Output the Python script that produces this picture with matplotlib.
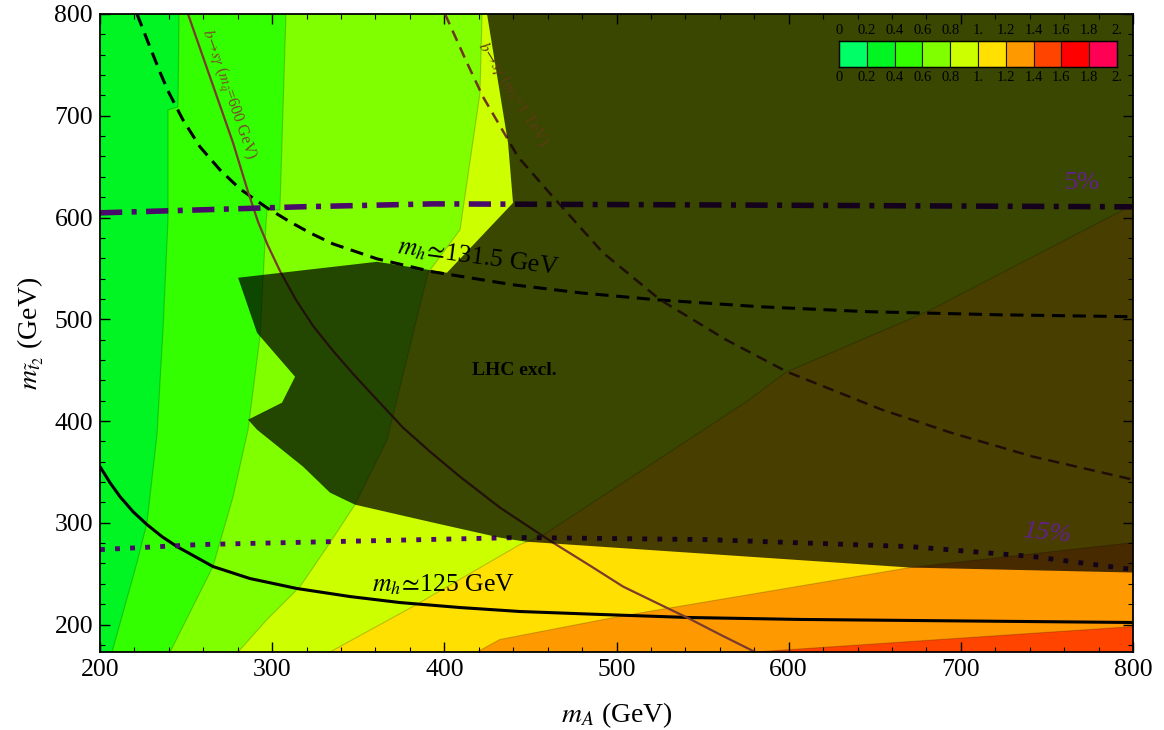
import numpy as np
import matplotlib.pyplot as plt
from matplotlib.ticker import MultipleLocator

plt.rcParams['font.family'] = ['Liberation Serif', 'DejaVu Serif']
plt.rcParams['mathtext.fontset'] = 'stix'

# colour scale of the ratio (legend box)
levels = [0.0, 0.2, 0.4, 0.6, 0.8, 1.0, 1.2, 1.4, 1.6, 1.8, 2.0]
level_labels = ['0', '0.2', '0.4', '0.6', '0.8', '1.', '1.2', '1.4', '1.6', '1.8', '2.']
band_colors = ['#00ff66', '#00f522', '#33ff00', '#80ff00', '#ccff00',
               '#ffe000', '#ff9900', '#ff4400', '#ff0000', '#ff0055']

# contour boundaries (mA, mt2 in GeV)
c04_mA = [207.0, 221.5, 227.3, 233.1, 236.6, 239.5, 239.5, 245.3, 245.9]
c04_mt = [173, 260.9, 300.2, 386.6, 489.7, 597.7, 705.7, 708.7, 800]
c06_mA = [240.7, 265.6, 277.3, 286.0, 292.9, 296.4, 297.0, 304.5, 308.0]
c06_mt = [173, 257.0, 325.7, 391.5, 482.8, 592.8, 607.5, 607.5, 800]
c08_mA = [280.2, 297.0, 316.2, 333.6, 348.1, 366.7, 390.5, 409.1, 420.7, 421.9]
c08_mt = [173, 204.9, 237.3, 280.5, 317.8, 381.7, 545.7, 587.9, 722.4, 800]
c10_mA = [333.6, 381.8, 443.9, 456.1, 574.6, 599.0, 680.3, 800]
c10_mt = [173, 217.7, 278.6, 286.4, 418.0, 448.4, 507.4, 612.4]
c12_mA = [419.0, 432.3, 501.5, 670.5, 800]
c12_mt = [173, 185.3, 207.9, 256.0, 280.5]
c14_mA = [579.9, 800]
c14_mt = [173, 198.0]

# LHC excluded region
lhc_mA = [424.8, 437.0, 439.9, 401.5, 360.9, 280.2, 291.2, 313.3, 305.7, 286.0,
          291.2, 317.9, 333.6, 348.1, 393.4, 432.3, 446.9, 670.5, 800, 800]
lhc_mt = [800, 673.3, 614.4, 545.7, 556.5, 540.8, 486.7, 443.5, 418.0, 401.3,
          391.5, 355.2, 329.6, 317.8, 300.2, 285.4, 281.5, 256.0, 251.1, 800]

# higgs mass contours
mh131_mA = [221.5, 229.0, 234.8, 239.5, 248.2, 258.1, 269.7, 281.3, 297.0, 310.4, 322.0,
            335.3, 360.9, 393.4, 439.9, 478.8, 522.9, 583.3, 646.7, 722.7, 800]
mh131_mt = [800, 767.6, 743.0, 724.4, 695.9, 669.4, 646.8, 628.1, 609.5, 595.7, 584.9,
            574.1, 559.4, 546.6, 533.9, 526.0, 519.2, 512.3, 507.4, 504.4, 502.5]
mh125_mA = [200, 205.8, 211.6, 219.2, 227.3, 236.0, 244.7, 255.2, 265.6, 287.1, 314.4,
            345.2, 374.2, 409.1, 443.9, 490.4, 542.1, 606.6, 670.5, 800]
mh125_mt = [355.2, 339.4, 325.7, 310.9, 298.2, 286.4, 276.6, 266.8, 257.0, 245.2, 235.4,
            227.5, 221.6, 216.7, 212.8, 209.9, 206.9, 205.0, 204.0, 202.0]

# b -> s gamma bounds
bsg600_mA = [251.1, 263.9, 277.3, 286.0, 291.8, 297.6, 304.5, 313.8, 323.7, 335.3, 346.9, 360.9,
             376.0, 391.7, 409.1, 432.3, 449.8, 463.1, 484.6, 503.8, 522.9, 542.1, 560.1, 579.9]
bsg600_mt = [800, 738.1, 673.3, 625.2, 595.7, 572.2, 547.6, 519.1, 493.6, 469.1, 446.5, 420.9,
             393.5, 369.9, 345.3, 314.9, 295.3, 280.5, 257.9, 237.3, 221.6, 205.9, 190.2, 173.5]
bsg1t_mA = [400.4, 413.2, 422.5, 434.7, 442.8, 463.1, 492.2, 525.3, 563.6, 599.0, 654.2, 694.3, 741.9, 800]
bsg1t_mt = [800, 751.9, 718.5, 683.1, 659.6, 620.3, 565.3, 519.2, 479.9, 448.4, 411.1, 388.5, 365.0, 342.4]

# fine-tuning contours
pct5_mA = [200, 258.1, 316.2, 393.4, 548.5, 800]
pct5_mt = [604.6, 607.5, 610.5, 613.4, 612.4, 610.5]
pct15_mA = [200, 258.1, 335.3, 443.9, 551.4, 670.5, 741.9, 800]
pct15_mt = [273.6, 278.6, 281.5, 285.5, 283.5, 276.6, 266.8, 254.0]

x0, x1, y0, y1 = 200, 800, 173, 800

fig = plt.figure(figsize=(11.64, 7.30), dpi=100)
ax = fig.add_axes([100/1164, 78/730, 1033/1164, 638/730])
ax.set_xlim(x0, x1)
ax.set_ylim(y0, y1)

# coloured bands, each one painted over the previous
ax.fill([x0, x1, x1, x0], [y0, y0, y1, y1], color=band_colors[1], lw=0, zorder=1)
for bx, by, col in [(c04_mA, c04_mt, band_colors[2]),
                    (c06_mA, c06_mt, band_colors[3]),
                    (c08_mA, c08_mt, band_colors[4])]:
    ax.fill(bx + [x1, x1], by + [y1, y0], color=col, lw=0, zorder=1)
for bx, by, col in [(c10_mA, c10_mt, band_colors[5]),
                    (c12_mA, c12_mt, band_colors[6]),
                    (c14_mA, c14_mt, band_colors[7])]:
    ax.fill(bx + [x1], by + [y0], color=col, lw=0, zorder=1)
for bx, by in [(c04_mA, c04_mt), (c06_mA, c06_mt), (c08_mA, c08_mt),
               (c10_mA, c10_mt), (c12_mA, c12_mt), (c14_mA, c14_mt)]:
    ax.plot(bx, by, color='k', alpha=0.2, lw=0.8, zorder=1.5)

# curves
ax.plot(mh131_mA, mh131_mt, color='k', lw=2.2, dashes=(4.3, 2.5), zorder=2)
ax.plot(mh125_mA, mh125_mt, color='k', lw=2.2, zorder=2)
ax.plot(bsg600_mA, bsg600_mt, color='#7a3b2e', lw=1.6, zorder=2)
ax.plot(bsg1t_mA, bsg1t_mt, color='#6e3522', lw=1.8, dashes=(4.5, 2.8), zorder=2)
ax.plot(pct5_mA, pct5_mt, color='#4a0a6a', lw=4, dashes=(4, 1.7, 0.9, 1.7), zorder=2)
ax.plot(pct15_mA, pct15_mt, color='#4a0a6a', lw=3.5, dashes=(1, 2.1), zorder=2)

ax.text(274.5, 720.5, r'$b\!\to\! s\gamma$ ($m_{\tilde{q}}$=600 GeV)', color='#7a4a2a',
        fontsize=11.5, rotation=-70.7, ha='center', va='center', rotation_mode='anchor', zorder=2)

# LHC exclusion overlay
ax.fill(lhc_mA, lhc_mt, color='black', alpha=0.72, lw=0, zorder=5)

ax.text(439.2, 720.5, r'$b\!\to\! s\gamma$ ($m_{\tilde{q}}$=1 TeV)', color='#5e3a14',
        fontsize=11.5, rotation=-58.1, ha='center', va='center', rotation_mode='anchor', zorder=6)
ax.text(419.6, 560.4, r'$m_h\!\simeq\!$131.5 GeV', fontsize=18.5, rotation=-7.5,
        ha='center', va='center', rotation_mode='anchor', zorder=6)
ax.text(399.3, 239.3, r'$m_h\!\simeq\!$125 GeV', fontsize=18.5,
        ha='center', va='center', zorder=6)
ax.text(440.5, 449.4, 'LHC excl.', fontsize=14, fontweight='bold',
        ha='center', va='center', zorder=6)
ax.text(770.4, 634.0, '5%', fontsize=19, color='#64208f', ha='center', va='center', zorder=6)
ax.text(750.2, 289.4, '15%', fontsize=19, color='#64208f', style='italic', rotation=-6,
        ha='center', va='center', zorder=6)

ax.xaxis.set_major_locator(MultipleLocator(100))
ax.xaxis.set_minor_locator(MultipleLocator(20))
ax.yaxis.set_major_locator(MultipleLocator(100))
ax.yaxis.set_minor_locator(MultipleLocator(20))
ax.tick_params(which='both', direction='in', top=True, right=True, labelsize=18.5, pad=5)
ax.tick_params(which='major', length=7, width=1)
ax.tick_params(which='minor', length=3.5, width=0.8)
for s in ax.spines.values():
    s.set_linewidth(1.3)
ax.set_xlabel(r'$m_A$ (GeV)', fontsize=20, labelpad=14)
ax.set_ylabel(r'$m_{\tilde{t}_2}$ (GeV)', fontsize=20, labelpad=6)

# legend box of the colour scale
lg = fig.add_axes([839/1164, (730-67)/730, 278/1164, 26/730])
lg.bar(levels[:-1], 1, width=0.2, align='edge', color=band_colors, edgecolor='#1a1a1a', lw=0.8)
lg.set_xlim(0, 2)
lg.set_ylim(0, 1)
lg.set_yticks([])
lg.set_xticks(levels)
lg.set_xticklabels(level_labels)
lg.tick_params(axis='x', length=0, top=True, labeltop=True, labelsize=10.5, pad=3)
for s in lg.spines.values():
    s.set_linewidth(1)

fig.savefig('out.png', dpi=100)
